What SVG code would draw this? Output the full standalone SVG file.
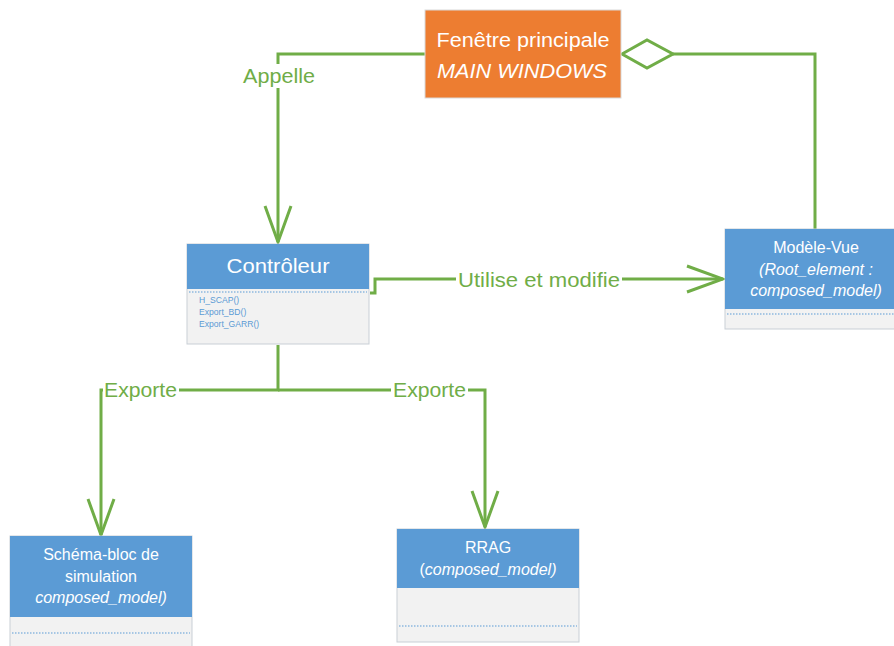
<svg xmlns="http://www.w3.org/2000/svg" width="894" height="646" viewBox="0 0 894 646">
<defs>
<style>
.hdr{fill:#5B9BD5;}
.body{fill:#F2F2F2;stroke:#C9CFD6;stroke-width:1;}
.dot{stroke:#5B9BD5;stroke-width:1;stroke-dasharray:1.5 1.5;fill:none;}
.t{font-family:"Liberation Sans",Arial,sans-serif;fill:#FFFFFF;text-anchor:middle;}
.it{font-style:italic;}
.m{font-family:"Liberation Sans",Arial,sans-serif;fill:#5B9BD5;font-size:8.6px;}
.conn{fill:none;stroke:#70AD47;stroke-width:3;}
.lbl{font-family:"Liberation Sans",Arial,sans-serif;fill:#70AD47;font-size:20px;text-anchor:middle;}
.bg{fill:#FFFFFF;}
</style>
<marker id="open" markerUnits="userSpaceOnUse" markerWidth="40" markerHeight="30" refX="36" refY="13" orient="auto" viewBox="-2 -2 40 30">
<path d="M0,0 L36,13 L0,26" fill="none" stroke="#70AD47" stroke-width="3"/>
</marker>
</defs>

<g id="connectors">
<polyline class="conn" points="425,54 278,54 278,242" marker-end="url(#open)"/>
<polyline class="conn" points="370,293 375,293 375,279 723,279" marker-end="url(#open)"/>
<polyline class="conn" points="278,345 278,390 101,390 101,535" marker-end="url(#open)"/>
<polyline class="conn" points="278,390 485,390 485,527" marker-end="url(#open)"/>
<polygon class="conn" points="622,54 647,40 673,54 647,68" style="fill:#FFFFFF"/>
<polyline class="conn" points="673,54 815,54 815,229"/>
<rect class="bg" x="242" y="64" width="74" height="24"/>
<text class="lbl" x="279" y="83" textLength="72" lengthAdjust="spacingAndGlyphs">Appelle</text>
<rect class="bg" x="456" y="268" width="166" height="24"/>
<text class="lbl" x="539" y="287" textLength="162" lengthAdjust="spacingAndGlyphs">Utilise et modifie</text>
<rect class="bg" x="103" y="380" width="76" height="22"/>
<text class="lbl" x="140.5" y="397" textLength="73" lengthAdjust="spacingAndGlyphs">Exporte</text>
<rect class="bg" x="391" y="380" width="77" height="22"/>
<text class="lbl" x="429.5" y="397" textLength="73" lengthAdjust="spacingAndGlyphs">Exporte</text>
</g>

<g id="main-window">
<rect x="425" y="10" width="196" height="88" fill="#ED7D31" stroke="#D9D9D9" stroke-width="1"/>
<text class="t" x="523" y="47" font-size="20" textLength="173" lengthAdjust="spacingAndGlyphs">Fenêtre principale</text>
<text class="t it" x="522" y="78" font-size="20" textLength="170" lengthAdjust="spacingAndGlyphs">MAIN WINDOWS</text>
</g>

<g id="controleur">
<rect class="body" x="187" y="244" width="182" height="100"/>
<rect class="hdr" x="187" y="244" width="182" height="45"/>
<line class="dot" x1="189" y1="292" x2="367" y2="292"/>
<text class="t" x="278" y="273" font-size="20" textLength="103" lengthAdjust="spacingAndGlyphs">Contrôleur</text>
<text class="m" x="199" y="303">H_SCAP()</text>
<text class="m" x="199" y="315">Export_BD()</text>
<text class="m" x="199" y="327">Export_GARR()</text>
</g>

<g id="modele-vue">
<rect class="body" x="725" y="229" width="172" height="100"/>
<rect class="hdr" x="725" y="229" width="172" height="80"/>
<line class="dot" x1="727" y1="314" x2="894" y2="314"/>
<text class="t" x="816" y="253" font-size="16">Modèle-Vue</text>
<text class="t it" x="816" y="275" font-size="16">(Root_element :</text>
<text class="t it" x="816" y="296" font-size="16">composed_model)</text>
</g>

<g id="schema-bloc">
<rect class="body" x="10" y="536" width="182" height="115"/>
<rect class="hdr" x="10" y="536" width="182" height="81"/>
<line class="dot" x1="12" y1="633" x2="190" y2="633"/>
<text class="t" x="101" y="560" font-size="16">Schéma-bloc de</text>
<text class="t" x="101" y="582" font-size="16">simulation</text>
<text class="t it" x="101" y="603" font-size="16">composed_model)</text>
</g>

<g id="rrag">
<rect class="body" x="397" y="529" width="182" height="113"/>
<rect class="hdr" x="397" y="529" width="182" height="59"/>
<line class="dot" x1="399" y1="626" x2="577" y2="626"/>
<text class="t" x="488" y="553" font-size="16">RRAG</text>
<text class="t" x="488" y="575" font-size="16">(<tspan class="it">composed_model)</tspan></text>
</g>
</svg>
